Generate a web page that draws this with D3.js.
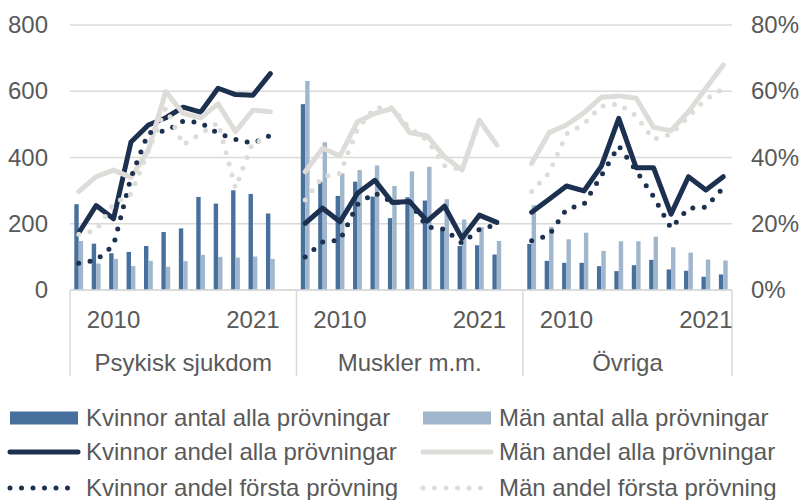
<!DOCTYPE html>
<html>
<head>
<meta charset="utf-8">
<script src="https://cdn.jsdelivr.net/npm/d3@7"></script>
<style>
  body { margin: 0; background: #fff; }
  svg { display: block; font-family: "Liberation Sans", Arial, sans-serif; }
  .txt { fill: #595959; font-size: 24px; }
</style>
</head>
<body>
<svg id="chart" width="802" height="500"></svg>
<script>
const groups = ["Psykisk sjukdom", "Muskler m.m.", "Övriga"];
const yearLabels = ["", "", "2010", "", "", "", "", "", "", "", "2021", ""];

// antal (left axis)
const kvinnorAntal = [
  [259, 140, 111, 115, 133, 175, 186, 281, 261, 301, 290, 231],
  [561, 327, 284, 327, 282, 217, 280, 270, 181, 133, 135, 107],
  [139, 88, 82, 82, 72, 57, 75, 91, 62, 58, 40, 47]
];
const manAntal = [
  [148, 80, 94, 72, 88, 70, 87, 106, 100, 98, 101, 94],
  [631, 446, 352, 362, 376, 314, 358, 372, 274, 213, 190, 148],
  [256, 191, 153, 173, 118, 147, 147, 161, 129, 113, 92, 89]
];

// andel in % (right axis)
const kvinnorAndelAlla = [
  [17.2, 25.5, 21.5, 44.7, 49.8, 52.0, 55.2, 53.7, 60.9, 59.0, 58.8, 65.3],
  [20.1, 24.7, 20.6, 29.2, 33.1, 26.4, 26.7, 20.8, 25.3, 15.6, 22.6, 20.4],
  [23.5, 27.4, 31.4, 29.9, 37.4, 51.8, 36.9, 36.9, 22.9, 34.2, 30.2, 34.2]
];
const manAndelAlla = [
  [29.7, 34.2, 36.2, 34.0, 42.3, 59.9, 53.3, 52.0, 56.2, 47.8, 54.3, 53.8],
  [35.7, 42.8, 40.5, 50.8, 53.3, 54.8, 47.5, 46.5, 40.2, 36.2, 51.3, 43.8],
  [38.2, 47.5, 49.8, 53.5, 58.2, 58.6, 57.9, 49.1, 48.1, 53.8, 60.9, 67.9]
];
const kvinnorAndelForsta = [
  [8.1, 9.0, 13.5, 34.0, 47.5, 48.0, 51.0, 50.5, 47.3, 45.5, 44.3, 46.7],
  [10.0, 14.5, 15.1, 25.8, 29.3, 26.5, 26.5, 19.0, 18.3, 14.1, 18.3, 19.8],
  [14.9, 16.5, 24.4, 25.9, 34.5, 43.5, 36.0, 28.2, 18.6, 24.7, 25.0, 30.9]
];
const manAndelForsta = [
  [16.8, 18.0, 26.0, 29.0, 42.0, 55.0, 43.8, 47.2, 50.5, 30.8, 44.8, 45.0],
  [27.2, 34.2, 35.2, 48.5, 55.0, 55.0, 48.8, 45.3, 37.5, 36.2, 51.3, 43.8],
  [29.7, 35.4, 47.1, 50.1, 55.5, 56.2, 52.5, 45.5, 47.0, 52.3, 57.6, 60.8]
];

const leftTicks = [0, 200, 400, 600, 800];
const rightTicks = [0, 20, 40, 60, 80];

const colors = {
  kAntal: "#48709c",
  mAntal: "#9fb6cc",
  kAndel: "#1c3050",
  mAndel: "#dedcd8",
  grid: "#d9d9d9"
};

const svg = d3.select("#chart");
const plotLeft = 70, plotRight = 732, plotTop = 25, plotBottom = 290;
const slotsPerGroup = 13;   // 12 years + one empty slot between groups
const nSlots = 38;

const x = d3.scaleBand().domain(d3.range(nSlots)).range([plotLeft, plotRight]);
const xInner = d3.scaleBand().domain(["k", "m"]).range([0, x.bandwidth()]).paddingOuter(0.98);
const yL = d3.scaleLinear().domain([0, 800]).range([plotBottom, plotTop]);
const yR = d3.scaleLinear().domain([0, 80]).range([plotBottom, plotTop]);

const slot = (g, i) => g * slotsPerGroup + i;
const cx = (g, i) => x(slot(g, i)) + x.bandwidth() / 2;

// gridlines
svg.append("g").selectAll("line").data(leftTicks).join("line")
  .attr("x1", plotLeft).attr("x2", plotRight)
  .attr("y1", d => yL(d)).attr("y2", d => yL(d))
  .attr("stroke", colors.grid).attr("stroke-width", 1.5);

// left axis labels
const axL = svg.append("g").attr("transform", "translate(48,0)")
  .call(d3.axisLeft(yL).tickValues(leftTicks).tickSize(0).tickPadding(0));
axL.select(".domain").remove();
axL.selectAll("text").attr("class", "txt").attr("fill", null);
axL.attr("font-size", null).attr("font-family", null);

// right axis labels
const axR = svg.append("g").attr("transform", "translate(751,0)")
  .call(d3.axisRight(yR).tickValues(rightTicks).tickSize(0).tickPadding(0).tickFormat(d => d + "%"));
axR.select(".domain").remove();
axR.selectAll("text").attr("class", "txt").attr("fill", null);
axR.attr("font-size", null).attr("font-family", null);

// bars
const barData = [];
groups.forEach((grp, g) => {
  kvinnorAntal[g].forEach((v, i) => barData.push({g, i, key: "k", v}));
  manAntal[g].forEach((v, i) => barData.push({g, i, key: "m", v}));
});
svg.append("g").selectAll("rect").data(barData).join("rect")
  .attr("x", d => x(slot(d.g, d.i)) + xInner(d.key))
  .attr("width", xInner.bandwidth())
  .attr("y", d => yL(d.v))
  .attr("height", d => plotBottom - yL(d.v))
  .attr("fill", d => d.key === "k" ? colors.kAntal : colors.mAntal);

// category axis
svg.append("line").attr("x1", plotLeft).attr("x2", plotRight).attr("y1", plotBottom).attr("y2", plotBottom)
  .attr("stroke", colors.grid).attr("stroke-width", 1.5);
const dividers = [0, slotsPerGroup, 2 * slotsPerGroup].map(s => x(s)).concat([plotRight]);
svg.append("g").selectAll("line").data(dividers).join("line")
  .attr("x1", d => d).attr("x2", d => d).attr("y1", plotBottom).attr("y2", 376)
  .attr("stroke", colors.grid).attr("stroke-width", 1.5);

groups.forEach((grp, g) => {
  yearLabels.forEach((lab, i) => {
    if (!lab) return;
    svg.append("text").attr("class", "txt").attr("x", cx(g, i)).attr("y", 327.5)
      .attr("text-anchor", "middle").text(lab);
  });
  const mid = (dividers[g] + dividers[g + 1]) / 2;
  svg.append("text").attr("class", "txt").attr("x", mid).attr("y", 370.5)
    .attr("text-anchor", "middle").text(grp);
});

// lines
const line = d3.line().x(d => d.x).y(d => yR(d.v));
const lineSeries = [
  {data: kvinnorAndelAlla, color: colors.kAndel, dotted: false},
  {data: manAndelAlla, color: colors.mAndel, dotted: false},
  {data: kvinnorAndelForsta, color: colors.kAndel, dotted: true},
  {data: manAndelForsta, color: colors.mAndel, dotted: true}
];
lineSeries.forEach(s => {
  groups.forEach((grp, g) => {
    const pts = s.data[g].map((v, i) => ({x: cx(g, i), v}));
    svg.append("path").datum(pts)
      .attr("d", line)
      .attr("fill", "none")
      .attr("stroke", s.color)
      .attr("stroke-width", 5)
      .attr("stroke-linejoin", "round")
      .attr("stroke-linecap", "round")
      .attr("stroke-dasharray", s.dotted ? "0 11.5" : null);
  });
});

// legend
const legend = [
  {label: "Kvinnor antal alla prövningar", color: colors.kAntal, type: "bar", col: 0, row: 0},
  {label: "Män antal alla prövningar", color: colors.mAntal, type: "bar", col: 1, row: 0},
  {label: "Kvinnor andel alla prövningar", color: colors.kAndel, type: "line", col: 0, row: 1},
  {label: "Män andel alla prövningar", color: colors.mAndel, type: "line", col: 1, row: 1},
  {label: "Kvinnor andel första prövning", color: colors.kAndel, type: "dot", col: 0, row: 2},
  {label: "Män andel första prövning", color: colors.mAndel, type: "dot", col: 1, row: 2}
];
const colX = [10, 423];
const rowY = [418, 452, 488];
const lg = svg.append("g").selectAll("g").data(legend).join("g")
  .attr("transform", d => `translate(${colX[d.col]},${rowY[d.row]})`);
lg.filter(d => d.type === "bar").append("rect")
  .attr("x", 0).attr("y", -6.5).attr("width", 68).attr("height", 13).attr("fill", d => d.color);
lg.filter(d => d.type !== "bar").append("line")
  .attr("x1", d => d.type === "dot" ? 0 : 0).attr("x2", d => d.type === "dot" ? 58 : 68)
  .attr("y1", 0).attr("y2", 0)
  .attr("stroke", d => d.color).attr("stroke-width", 5).attr("stroke-linecap", "round")
  .attr("stroke-dasharray", d => d.type === "dot" ? "0 11.5" : null)
  .attr("transform", d => d.type === "dot" ? "translate(0,0)" : null);
lg.append("text").attr("class", "txt").attr("x", 76).attr("y", 0).attr("dy", "0.35em")
  .text(d => d.label);
</script>
</body>
</html>
